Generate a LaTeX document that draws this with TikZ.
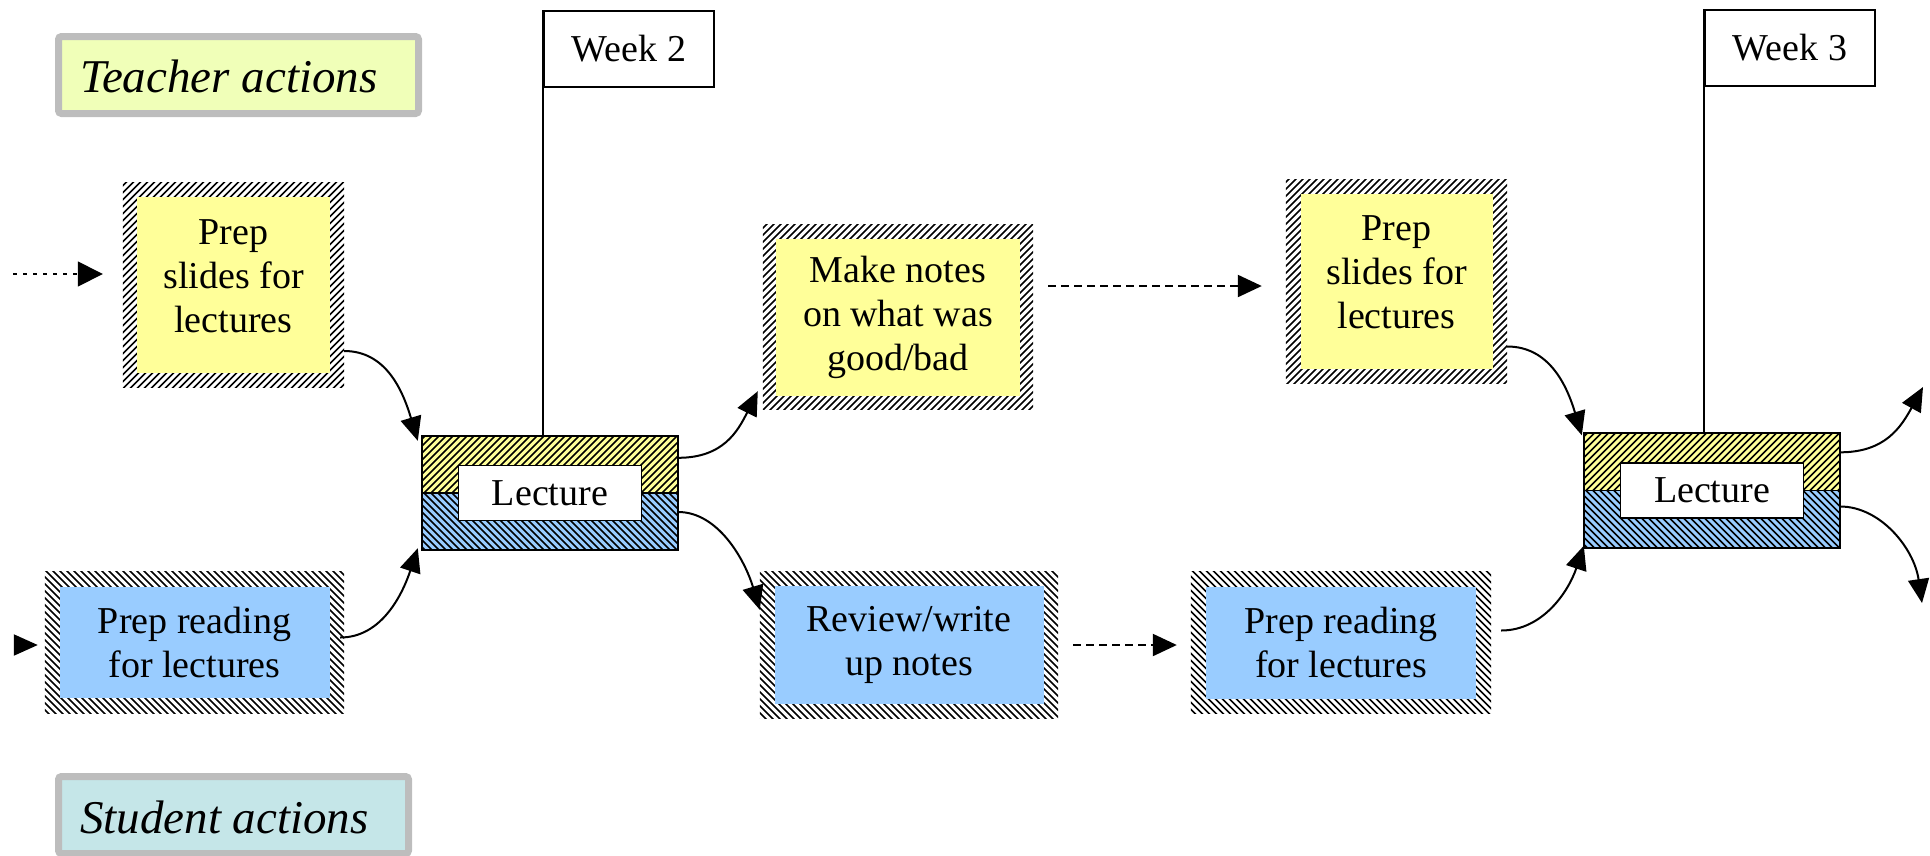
\documentclass[tikz,border=0pt]{standalone}
\usepackage{fontspec}
\setmainfont{Liberation Serif}
\usetikzlibrary{arrows.meta}
\definecolor{boxyellow}{HTML}{FFFF99}
\definecolor{boxblue}{HTML}{99CCFF}
\definecolor{teachfill}{HTML}{F0FFB8}
\definecolor{studfill}{HTML}{C5E6E8}
\definecolor{legendgray}{HTML}{BDBDBD}
\tikzset{
  stripe/.style={line width=1.5pt, black},
  bandbox/.style={rectangle, inner sep=0pt, fill=white},
  taskY/.style={rectangle, inner sep=0pt, fill=boxyellow, align=center},
  taskB/.style={rectangle, inner sep=0pt, fill=boxblue, align=center},
  tasktext/.style={inner sep=0pt, align=center},
  lectouter/.style={rectangle, inner sep=0pt, minimum width=256pt, minimum height=114pt},
  lectinner/.style={rectangle, inner sep=0pt, fill=white, draw=black, line width=1.8pt, minimum width=183pt, minimum height=55pt},
  weekbox/.style={rectangle, inner sep=0pt, fill=white, draw=black, line width=2pt, minimum width=170pt, minimum height=76pt},
  legendbox/.style={rectangle, draw=legendgray, line width=7pt, rounded corners=3pt},
  legendtext/.style={inner sep=0pt, anchor=base west, font=\fontsize{47}{56}\selectfont\itshape},
  conn/.style={line width=2pt, -{Triangle[length=24pt,width=21pt]}},
  dasharr/.style={line width=2.2pt, dash pattern=on 8pt off 5pt, -{Triangle[length=24pt,width=22pt]}},
  dotarr/.style={line width=1.5pt, dash pattern=on 4pt off 6pt, -{Triangle[length=25pt,width=25pt]}},
}
% #1: centre of the stripe family, #2: 1 for "/" stripes, -1 for "\" stripes
\newcommand{\hatchstripes}[2]{%
  \foreach \s in {-287,-280,...,287}{\draw[stripe, shift={(#1)}] (\s-135,135*#2) -- (\s+135,-135*#2);}}
% #1 node name, #2 direction
\newcommand{\hatchband}[2]{%
  \begin{scope}\clip (#1.north west) rectangle (#1.south east);\hatchstripes{#1.center}{#2}\end{scope}}
\begin{document}
\begin{tikzpicture}[x=1pt,y=-1pt,font=\fontsize{38}{44}\selectfont]
\useasboundingbox (0,0) rectangle (1930,855);

% legend boxes
\node[legendbox, fill=teachfill, minimum width=360pt, minimum height=77pt] (teach) at (238.5,75) {};
\node[legendtext] (teachtxt) at (80,92) {Teacher actions};
\node[legendbox, fill=studfill, minimum width=350pt, minimum height=77pt] (stud) at (233.5,815) {};
\node[legendtext] (studtxt) at (80,833) {Student actions};

% task boxes (hatched band + coloured core)
\node[bandbox, minimum width=221pt, minimum height=204pt] (ps1) at (233.5,285) {};
\hatchband{ps1}{1}
\node[taskY, minimum width=193pt, minimum height=176pt] (ps1t) at (ps1) {};
\node[tasktext] (ps1x) at ([yshift=9pt]ps1.center) {Prep\\slides for\\lectures};

\node[bandbox, minimum width=299pt, minimum height=141pt] (pr1) at (194.5,642.5) {};
\hatchband{pr1}{-1}
\node[taskB, minimum width=270pt, minimum height=111pt] (pr1t) at (pr1) {Prep reading\\for lectures};

\node[bandbox, minimum width=270pt, minimum height=184pt] (mn) at (898,317) {};
\hatchband{mn}{1}
\node[taskY, minimum width=244pt, minimum height=157pt] (mnt) at (mn) {Make notes\\on what was\\good/bad};

\node[bandbox, minimum width=298pt, minimum height=146pt] (rv) at (909,645) {};
\hatchband{rv}{-1}
\node[taskB, minimum width=269pt, minimum height=118pt] (rvt) at (rv) {Review/write\\up notes};

\node[bandbox, minimum width=221pt, minimum height=203pt] (ps2) at (1396.5,281.5) {};
\hatchband{ps2}{1}
\node[taskY, minimum width=192pt, minimum height=175pt] (ps2t) at (ps2) {};
\node[tasktext] (ps2x) at ([yshift=9pt]ps2.center) {Prep\\slides for\\lectures};

\node[bandbox, minimum width=300pt, minimum height=141pt] (pr2) at (1341,642.5) {};
\hatchband{pr2}{-1}
\node[taskB, minimum width=270pt, minimum height=112pt] (pr2t) at (pr2) {Prep reading\\for lectures};

% lecture 1
\node[lectouter] (L1) at (550,493) {};
\begin{scope}\clip (L1.north west) rectangle (L1.east);
  \fill[boxyellow] (L1.north west) rectangle (L1.east);\hatchstripes{L1.center}{1}\end{scope}
\begin{scope}\clip (L1.west) rectangle (L1.south east);
  \fill[boxblue] (L1.west) rectangle (L1.south east);\hatchstripes{L1.center}{-1}\end{scope}
\draw[line width=2pt] (L1.north west) rectangle (L1.south east);
\draw[line width=1.5pt] (L1.west) -- (L1.east);
\node[lectinner] (L1t) at (L1) {Lecture};

% lecture 2
\node[lectouter] (L2) at (1712,490.5) {};
\begin{scope}\clip (L2.north west) rectangle (L2.east);
  \fill[boxyellow] (L2.north west) rectangle (L2.east);\hatchstripes{L2.center}{1}\end{scope}
\begin{scope}\clip (L2.west) rectangle (L2.south east);
  \fill[boxblue] (L2.west) rectangle (L2.south east);\hatchstripes{L2.center}{-1}\end{scope}
\draw[line width=2pt] (L2.north west) rectangle (L2.south east);
\draw[line width=1.5pt] (L2.west) -- (L2.east);
\node[lectinner] (L2t) at (L2) {Lecture};

% week flags
\node[weekbox, anchor=north west] (w2) at (543,10) {Week 2};
\draw[line width=2pt] (w2.north west) -- (w2.north west |- L1.north);
\node[weekbox, anchor=north west] (w3) at (1704,9) {Week 3};
\draw[line width=2pt] (w3.north west) -- (w3.north west |- L2.north);

% free ends
\coordinate (in1) at (13,274);
\coordinate (in2) at (14,645);
\coordinate (o1) at (1923,387);
\coordinate (o2) at (1922,603);

% incoming arrows at left
\draw[dotarr] (in1) -- ([xshift=-20pt]ps1.west |- in1);
\draw[conn] (in2) -- ([xshift=-7pt]pr1.west |- in2);

% curved connectors
\draw[conn] ([yshift=-66pt]ps1.east) .. controls +(42,0) and +(-15,-50) .. ([xshift=-4pt,yshift=-5pt]L1.north west);
\draw[conn] ([xshift=-4pt,yshift=5pt]pr1.east) .. controls +(42,0) and +(-15,45) .. ([xshift=-4pt,yshift=2pt]L1.south west);
\draw[conn] ([yshift=-22pt]L1.north east) .. controls +(45,0) and +(-20,40) .. ([xshift=-5pt,yshift=18pt]mn.south west);
\draw[conn] ([yshift=-19pt]L1.east) .. controls +(40,0) and +(-15,-50) .. ([yshift=-38pt]rv.north west);
\draw[conn] ([yshift=-65pt]ps2.east) .. controls +(42,0) and +(-15,-50) .. ([xshift=-2pt,yshift=-2pt]L2.north west);
\draw[conn] ([xshift=10pt,yshift=12pt]pr2.east) .. controls +(42,0) and +(-15,45) .. ([xshift=0pt,yshift=2pt]L2.south west);
\draw[conn] ([yshift=-19pt]L2.north east) .. controls +(45,0) and +(-22,40) .. (o1);
\draw[conn] ([yshift=-16pt]L2.east) .. controls +(40,0) and +(-8,-55) .. (o2);

% dashed connectors between weeks
\coordinate (d1s) at ([xshift=15pt,yshift=31pt]mn.east);
\draw[dasharr] (d1s) -- ([xshift=-24pt]ps2.west |- d1s);
\draw[dasharr] ([xshift=15pt]rv.east) -- ([xshift=-14pt]pr2.west |- rv.east);
\end{tikzpicture}
\end{document}
